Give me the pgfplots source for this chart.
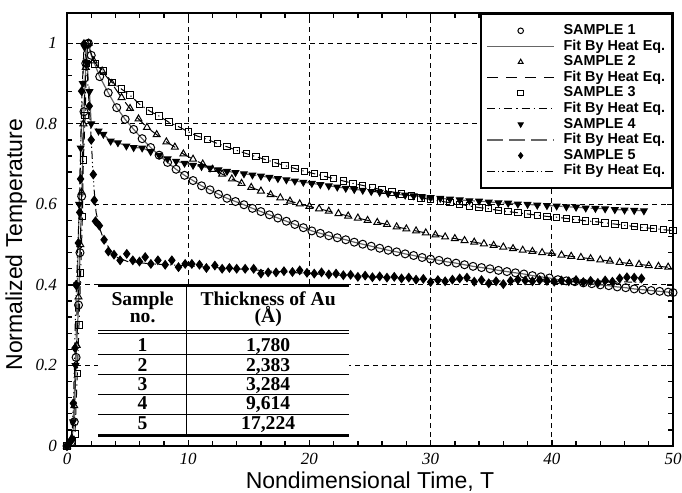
\documentclass[border=0pt]{standalone}
\usepackage{fontspec}
\setmainfont{Liberation Serif}
\newfontfamily\arial{Liberation Sans}
\usepackage{pgfplots}
\usepackage{pgfplotstable}
\pgfplotsset{compat=1.18}
\usetikzlibrary{calc}

% sample 1 (circles)
\pgfplotstableread{
T y
0 0
0.35 0.01
0.6 0.06
0.75 0.22
0.95 0.35
1.07 0.48
1.21 0.62
1.4 0.83
1.55 0.95
1.76 1.0
2.0 0.97
2.7 0.917
3.4 0.877
4.1 0.840
4.8 0.811
5.5 0.786
6.2 0.763
6.9 0.741
7.6 0.722
8.3 0.704
9.0 0.687
9.7 0.672
10.4 0.659
11.1 0.646
11.8 0.636
12.5 0.625
13.2 0.615
13.9 0.607
14.6 0.599
15.3 0.590
16.0 0.582
16.7 0.574
17.4 0.566
18.1 0.558
18.8 0.550
19.5 0.542
20.2 0.534
20.9 0.528
21.6 0.522
22.3 0.517
23.0 0.512
23.7 0.506
24.4 0.501
25.1 0.496
25.8 0.491
26.5 0.486
27.2 0.482
27.9 0.477
28.6 0.473
29.3 0.468
30.0 0.464
30.7 0.461
31.4 0.457
32.1 0.454
32.8 0.450
33.5 0.446
34.2 0.443
34.9 0.440
35.6 0.436
36.3 0.433
37.0 0.430
37.7 0.427
38.4 0.423
39.1 0.420
39.8 0.417
40.5 0.413
41.2 0.410
41.9 0.408
42.6 0.405
43.3 0.403
44.0 0.400
44.7 0.398
45.4 0.395
46.1 0.393
46.8 0.390
47.5 0.388
48.2 0.386
48.9 0.384
49.6 0.382
50.0 0.381
}\sampleA

% sample 2 (triangles)
\pgfplotstableread{
T y
0 0
0.4 0.02
0.6 0.10
0.8 0.25
0.95 0.37
1.1 0.50
1.2 0.63
1.35 0.80
1.55 0.94
1.8 1.0
2.2 0.956
2.9 0.931
3.7 0.900
4.5 0.865
5.2 0.838
5.9 0.812
6.6 0.791
7.4 0.773
8.2 0.755
8.9 0.742
9.6 0.725
10.4 0.712
11.2 0.700
12.0 0.687
12.8 0.675
13.6 0.663
14.4 0.652
15.2 0.642
16.0 0.633
16.8 0.624
17.6 0.616
18.4 0.608
19.2 0.601
20.0 0.595
20.8 0.589
21.6 0.583
22.4 0.577
23.2 0.571
24.0 0.566
24.8 0.560
25.6 0.555
26.4 0.550
27.2 0.544
28.0 0.539
28.8 0.534
29.6 0.529
30.4 0.524
31.2 0.519
32.0 0.515
32.8 0.510
33.6 0.506
34.4 0.502
35.2 0.498
36.0 0.494
36.8 0.490
37.6 0.486
38.4 0.483
39.2 0.480
40.0 0.478
40.8 0.474
41.6 0.471
42.4 0.468
43.2 0.465
44.0 0.462
44.8 0.459
45.6 0.456
46.4 0.453
47.2 0.451
48.0 0.448
48.8 0.446
49.6 0.444
}\sampleB

% sample 3 (squares)
\pgfplotstableread{
T y
0 0
0.45 0.01
0.66 0.03
0.85 0.18
0.99 0.30
1.13 0.43
1.27 0.57
1.35 0.71
1.5 0.82
1.6 0.95
1.7 1.0
2.3 0.948
3.0 0.931
3.7 0.903
4.5 0.886
5.2 0.871
6.0 0.848
6.8 0.832
7.6 0.819
8.4 0.804
9.2 0.793
10.0 0.780
10.8 0.769
11.6 0.761
12.4 0.751
13.2 0.743
14.0 0.734
14.8 0.726
15.6 0.718
16.4 0.711
17.2 0.703
18.0 0.696
18.8 0.689
19.6 0.682
20.4 0.676
21.2 0.670
22.0 0.664
22.8 0.658
23.6 0.652
24.4 0.647
25.2 0.641
26.0 0.636
26.8 0.631
27.6 0.626
28.4 0.621
29.2 0.616
30.0 0.612
30.8 0.608
31.6 0.604
32.4 0.600
33.2 0.596
34.0 0.592
34.8 0.589
35.6 0.585
36.4 0.582
37.2 0.579
38.0 0.576
38.8 0.573
39.6 0.570
40.4 0.568
41.2 0.565
42.0 0.562
42.8 0.559
43.6 0.557
44.4 0.554
45.2 0.551
46.0 0.548
46.8 0.545
47.6 0.542
48.4 0.540
49.2 0.537
50.0 0.535
}\sampleC

% sample 4 (filled down triangles)
\pgfplotstableread{
T y
0 0
0.3 0.01
0.5 0.06
0.7 0.20
0.85 0.40
1.0 0.60
1.13 0.74
1.3 0.90
1.45 0.99
1.65 0.95
1.85 0.88
2.0 0.80
2.6 0.782
3.0 0.774
3.6 0.757
4.2 0.753
4.9 0.745
5.5 0.741
6.2 0.740
6.9 0.731
7.6 0.722
8.3 0.713
9.0 0.707
9.7 0.702
10.4 0.697
11.1 0.694
11.8 0.690
12.5 0.686
13.2 0.682
13.9 0.679
14.6 0.676
15.3 0.673
16.0 0.670
16.7 0.667
17.4 0.664
18.1 0.661
18.8 0.658
19.5 0.655
20.2 0.652
20.9 0.649
21.6 0.646
22.3 0.643
23.0 0.640
23.7 0.637
24.4 0.635
25.1 0.632
25.8 0.630
26.5 0.627
27.2 0.625
27.9 0.623
28.6 0.621
29.3 0.619
30.0 0.617
30.8 0.615
31.6 0.613
32.4 0.611
33.2 0.609
34.0 0.608
34.8 0.606
35.6 0.604
36.4 0.603
37.2 0.601
38.0 0.600
38.8 0.598
39.6 0.597
40.4 0.596
41.2 0.594
42.0 0.593
42.8 0.591
43.6 0.590
44.4 0.589
45.2 0.587
46.0 0.586
46.8 0.585
47.6 0.584
}\sampleD

% sample 5 (filled diamonds)
\pgfplotstableread{
T y
0 0
0.39 0.015
0.52 0.106
0.66 0.243
0.74 0.40
0.94 0.504
1.05 0.58
1.12 0.663
1.21 0.881
1.4 0.998
1.84 0.844
2.0 0.76
2.17 0.674
2.25 0.61
2.35 0.558
2.67 0.547
3.06 0.512
3.41 0.483
3.88 0.475
4.38 0.461
4.93 0.477
5.43 0.461
5.98 0.458
6.45 0.469
6.92 0.452
7.5 0.461
8.1 0.450
8.65 0.461
9.2 0.444
9.75 0.452
10.3 0.452
10.93 0.450
11.5 0.442
12.2 0.448
12.8 0.440
13.4 0.442
14.0 0.440
14.7 0.440
15.4 0.440
16.0 0.428
16.6 0.431
17.25 0.431
17.9 0.434
18.6 0.432
19.2 0.436
19.8 0.430
20.4 0.428
21.0 0.431
21.6 0.426
22.2 0.428
22.8 0.424
23.4 0.425
24.0 0.420
24.6 0.423
25.2 0.419
25.8 0.421
26.4 0.418
27.0 0.420
27.6 0.416
28.2 0.418
28.8 0.413
29.4 0.415
30.0 0.407
30.6 0.412
31.2 0.409
31.8 0.413
32.4 0.416
33.0 0.418
33.6 0.408
34.2 0.412
34.8 0.404
35.4 0.409
36.0 0.402
36.6 0.410
37.2 0.413
37.8 0.411
38.4 0.409
39.0 0.412
39.6 0.410
40.2 0.408
40.8 0.411
41.4 0.409
42.0 0.412
42.6 0.407
43.2 0.410
43.8 0.405
44.4 0.411
45.0 0.408
45.6 0.416
46.2 0.419
46.8 0.418
47.4 0.416
}\sampleE

% fit for sample 5
\pgfplotstableread{
T y
0 0
0.4 0.02
0.55 0.12
0.7 0.33
0.9 0.50
1.05 0.62
1.2 0.85
1.4 0.99
1.6 0.96
1.8 0.86
2.0 0.76
2.2 0.65
2.4 0.58
2.7 0.54
3.0 0.515
3.5 0.49
4.0 0.47
5.0 0.458
7.0 0.452
10.0 0.447
15.0 0.438
20.0 0.428
25.0 0.420
30.0 0.414
35.0 0.410
40.0 0.408
47.5 0.407
}\fitE

\newcommand{\tabfont}{\fontsize{9.8}{11}\selectfont\bfseries}

\begin{document}
\begin{tikzpicture}
\begin{axis}[
  width=303pt, height=216.5pt, scale only axis,
  xmin=0, xmax=50, ymin=0, ymax=1.075,
  xtick={0,10,20,30,40,50},
  ytick={0,0.2,0.4,0.6,0.8,1},
  minor x tick num=4, minor y tick num=4,
  tick align=inside, tick pos=both,
  major tick length=3.2pt, minor tick length=2.5pt,
  every tick/.style={black, line width=0.7pt},
  axis line style={line width=1.3pt},
  grid=major,
  major grid style={black, line width=0.4pt, dash pattern=on 2.5pt off 2pt},
  tick label style={font=\fontsize{8.5}{10}\selectfont\itshape},
  yticklabel style={xshift=-1.5pt},
  /pgf/number format/assume math mode=true,
  xlabel={Nondimensional Time, T},
  ylabel={Normalized Temperature},
  label style={font=\arial\fontsize{11.5}{13}\selectfont, inner sep=0pt},
  xlabel style={at={($(rel axis cs:0.5,0)+(0,-21pt)$)}, anchor=base},
  ylabel style={at={($(rel axis cs:0,0.465)+(-22.5pt,0)$)}, anchor=base},
  clip=false,
  legend image code/.code={\draw[mark repeat=2,mark phase=2,#1,mark size=1.4pt] plot coordinates {(0pt,0pt) (16.75pt,0pt) (33.5pt,0pt)};},
  legend cell align=left,
  legend style={at={(rel axis cs:1,1)}, anchor=north east, draw=black, line width=1pt,
    fill=white, font=\arial\fontsize{7.2}{8}\selectfont\bfseries,
    inner xsep=3pt, inner ysep=4.5pt, column sep=4pt, row sep=0pt,
    nodes={inner sep=0.4pt, text height=5.4pt, text depth=1.6pt}},
]
\addplot[only marks, black, mark=o, mark size=2pt, line width=0.5pt] table {\sampleA};
\addlegendentry{SAMPLE 1}
\addplot[black!60, line width=0.6pt] table {\sampleA};
\addlegendentry{Fit By Heat Eq.}
\addplot[only marks, black, mark=triangle, mark size=2pt, line width=0.5pt] table {\sampleB};
\addlegendentry{SAMPLE 2}
\addplot[black, line width=0.5pt, dash pattern=on 5.5pt off 4pt] table {\sampleB};
\addlegendentry{Fit By Heat Eq.}
\addplot[only marks, black, mark=square, mark size=1.6pt, line width=0.5pt] table {\sampleC};
\addlegendentry{SAMPLE 3}
\addplot[black, line width=0.5pt, dash pattern=on 4pt off 2pt on 0.6pt off 2pt] table {\sampleC};
\addlegendentry{Fit By Heat Eq.}
\addplot[only marks, black, mark=triangle*, mark size=1.9pt, mark options={rotate=180}, line width=0.5pt] table {\sampleD};
\addlegendentry{SAMPLE 4}
\addplot[black!60, line width=0.6pt, dash pattern=on 8pt off 3pt] table {\sampleD};
\addlegendentry{Fit By Heat Eq.}
\addplot[only marks, black, mark=diamond*, mark size=2.1pt, line width=0.5pt] table {\sampleE};
\addlegendentry{SAMPLE 5}
\addplot[black, line width=0.5pt, dash pattern=on 4pt off 1.5pt on 0.6pt off 1.5pt on 0.6pt off 1.5pt] table {\fitE};
\addlegendentry{Fit By Heat Eq.}

% table of thicknesses
\fill[white] (axis cs:2.59,0.0256) rectangle (axis cs:23.3,0.3988);
\draw[line width=1.5pt] (axis cs:2.59,0.3988) -- (axis cs:23.3,0.3988);
\draw[line width=1.5pt] (axis cs:2.59,0.0256) -- (axis cs:23.3,0.0256);
\draw[line width=0.5pt] (axis cs:2.59,0.286) -- (axis cs:23.3,0.286);
\draw[line width=0.5pt] (axis cs:2.59,0.280) -- (axis cs:23.3,0.280);
\draw[line width=0.5pt] (axis cs:2.59,0.2264) -- (axis cs:23.3,0.2264);
\draw[line width=0.5pt] (axis cs:2.59,0.1766) -- (axis cs:23.3,0.1766);
\draw[line width=0.5pt] (axis cs:2.59,0.1269) -- (axis cs:23.3,0.1269);
\draw[line width=0.5pt] (axis cs:2.59,0.0771) -- (axis cs:23.3,0.0771);
\draw[line width=0.5pt] (axis cs:9.89,0.3988) -- (axis cs:9.89,0.0256);
\node[font=\tabfont, anchor=base] at (axis cs:6.24,0.349) {Sample};
\node[font=\tabfont, anchor=base] at (axis cs:6.24,0.306) {no.};
\node[font=\tabfont, anchor=base] at (axis cs:16.6,0.349) {Thickness of Au};
\node[font=\tabfont, anchor=base] at (axis cs:16.6,0.306) {(Å)};
\node[font=\tabfont, anchor=base] at (axis cs:6.24,0.2346) {1};
\node[font=\tabfont, anchor=base] at (axis cs:6.24,0.1848) {2};
\node[font=\tabfont, anchor=base] at (axis cs:6.24,0.1376) {3};
\node[font=\tabfont, anchor=base] at (axis cs:6.24,0.0896) {4};
\node[font=\tabfont, anchor=base] at (axis cs:6.24,0.0415) {5};
\node[font=\tabfont, anchor=base] at (axis cs:16.6,0.2346) {1,780};
\node[font=\tabfont, anchor=base] at (axis cs:16.6,0.1848) {2,383};
\node[font=\tabfont, anchor=base] at (axis cs:16.6,0.1376) {3,284};
\node[font=\tabfont, anchor=base] at (axis cs:16.6,0.0896) {9,614};
\node[font=\tabfont, anchor=base] at (axis cs:16.6,0.0415) {17,224};
\end{axis}
\pgfresetboundingbox
\path ([shift={(-33.5pt,-23pt)}]current axis.south west) rectangle ([shift={(4.5pt,6.5pt)}]current axis.north east);
\end{tikzpicture}
\end{document}
